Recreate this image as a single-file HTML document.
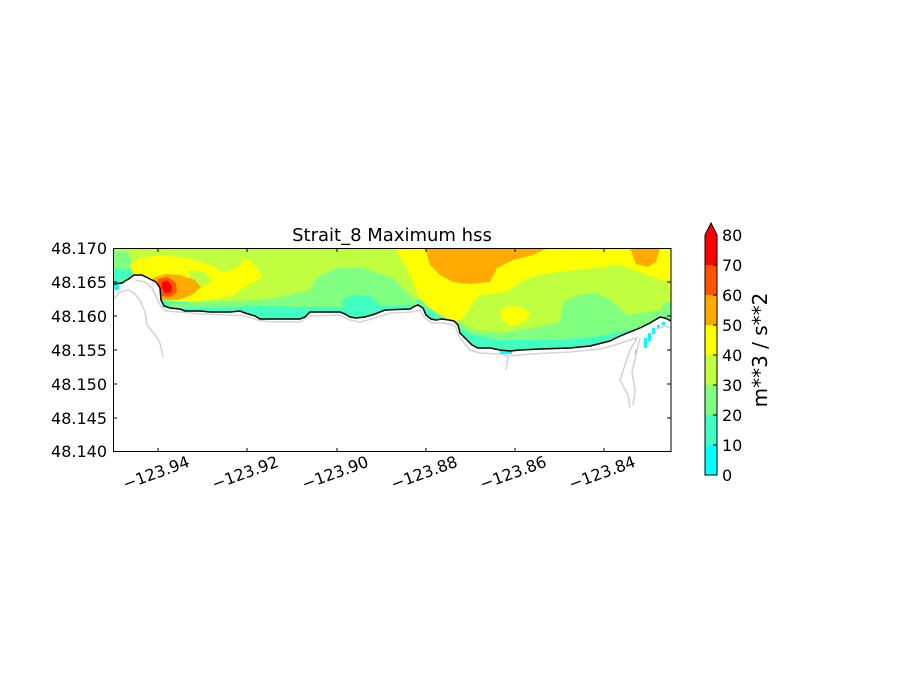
<!DOCTYPE html>
<html><head><meta charset="utf-8"><style>
html,body{margin:0;padding:0;background:#fff;}
svg{display:block;font-family:"DejaVu Sans","Liberation Sans",sans-serif;}
</style></head><body>
<svg width="900" height="700" viewBox="0 0 900 700" xmlns="http://www.w3.org/2000/svg">
<defs>
<clipPath id="sea">
<path d="M113,248 L671,248 L671,321 L665,318 L660,317 L650,323 L640,328 L620,336 L610,341 L590,346 L570,348 L540,349 L520,350 L510,351 L500,350 L490,348 L478,348 L472,345 L466,339 L460,333 L458,325 L454,321 L449,320 L442,319 L436,320 L431,319 L426,315 L423,308 L418,305 L415,306 L410,309 L385,310 L375,314 L365,317 L356,318 L350,317 L345,314 L340,312 L310,312 L305,317 L300,319 L260,319 L255,316 L245,313 L240,311 L230,312 L210,312 L200,311 L185,311 L180,309 L170,308 L164,306 L161,300 L160,288 L156,282 L150,279 L142,275 L134,275 L130,278 L122,283 L113,284 Z"/>
</clipPath>
</defs>
<g clip-path="url(#sea)">
<rect x="113" y="248" width="558" height="110" fill="#c0ff40"/>
<path d="M113,300 L113,266 L130,268 L135,280 L160,300 L200,303 L420,300 L470,330 L560,338 L640,320 L671,310 L671,360 L113,360 Z" fill="#40ffc0"/>
<path d="M170,304 L200,302 L260,300 L280,297 L310,290 L317,277 L337,268 L363,268 L393,278 L410,295 L418,302 L430,310 L445,317 L460,322 L473,330 L503,333 L530,328 L560,322 L563,302 L577,295 L597,293 L610,300 L620,308 L627,315 L640,312 L671,300 L671,318 L640,328 L600,336 L560,340 L500,340 L470,334 L455,325 L420,305 L380,306 L345,307 L300,307 L260,306 L200,308 L170,308 Z" fill="#80ff80"/>
<path d="M343,300 L352,295 L370,296 L378,303 L380,312 L360,314 L343,312 Z" fill="#40ffc0"/>
<path d="M113,250 L128,252 L132,262 L128,270 L113,272 Z" fill="#80ff80"/>
<path d="M113,268 L128,270 L132,280 L113,284 Z" fill="#40ffc0"/>
<path d="M130,265 L140,258 L160,255 L187,258 L210,265 L223,272 L237,268 L243,260 L250,260 L257,268 L263,278 L253,282 L243,288 L233,295 L220,298 L200,301 L180,302 L165,300 L160,290 L150,280 L135,275 Z" fill="#ffff00"/>
<path d="M190,270 L205,272 L212,282 L200,288 L188,282 Z" fill="#c0ff40"/>
<path d="M395,248 L671,248 L671,282 L667,282 L647,275 L620,265 L593,268 L560,272 L537,275 L520,282 L507,292 L480,295 L473,302 L463,318 L455,322 L440,315 L425,305 L418,295 L412,280 L405,265 Z" fill="#ffff00"/>
<path d="M671,282 L671,300 L660,305 L665,290 Z" fill="#ffff00"/>
<path d="M473,302 L480,295 L507,292 L520,282 L537,275 L560,272 L593,268 L620,265 L647,275 L667,282 L671,295 L660,310 L627,315 L620,308 L610,300 L597,293 L577,295 L563,302 L560,322 L530,328 L503,333 L473,330 L465,322 Z" fill="#c0ff40"/>
<path d="M500,312 L508,306 L522,307 L530,313 L525,322 L510,326 L502,320 Z" fill="#ffff00"/>
<path d="M425,248 L550,248 L543,250 L533,255 L513,260 L497,268 L490,282 L470,284 L453,282 L440,275 L430,265 Z" fill="#ffaa00"/>
<path d="M630,248 L660,248 L656,262 L648,267 L636,264 Z" fill="#ffaa00"/>
<path d="M153,278 L165,274 L180,275 L195,280 L201,287 L192,295 L178,300 L162,300 L155,292 Z" fill="#ffaa00"/>
<path d="M158,279 L168,277 L176,283 L177,292 L170,297 L162,296 L158,288 Z" fill="#ff5500"/>
<path d="M162,282 L168,281 L172,286 L171,292 L165,293 L162,288 Z" fill="#ff0000"/>
</g>
<g fill="#00ffff">
<rect x="644" y="338" width="3" height="10" /><rect x="648" y="333" width="3" height="8"/><rect x="652" y="328" width="3" height="6"/><rect x="657" y="325" width="3" height="4"/><rect x="662" y="322" width="3" height="3"/><rect x="635" y="350" width="2" height="4"/>
<rect x="500" y="350" width="12" height="4"/>
<rect x="113" y="284" width="6" height="6"/>
</g>
<g fill="none" stroke="#d4d4d4" stroke-width="1.6">
<path d="M113,300 L120,292 L128,290 L134,293 L140,300 L145,312 L147,325 L155,335 L160,343 L163,357"/>
<path d="M135,280 L145,282 L152,288 L156,296 L160,305 L166,311 L180,312 L200,314 L230,315 L245,316 L258,320 L270,322 L300,322 L310,316 L340,315 L350,320 L360,322 L375,318 L390,313 L412,312 L420,310 L425,318 L432,323 L445,323 L455,326 L460,338 L470,350 L480,353 L500,354 L508,356 L506,370 M510,356 L530,354 L570,352 L600,349 L615,345 L630,340 L637,338 L630,350 L625,365 L620,380 L628,395 L630,408 M640,338 L636,355 L632,372 L635,390 L633,405 M655,330 L665,326 L671,328"/>
</g>
<path d="M113,284 L122,283 L130,278 L134,275 L142,275 L150,279 L156,282 L160,288 L161,300 L164,306 L170,308 L180,309 L185,311 L200,311 L210,312 L230,312 L240,311 L245,313 L255,316 L260,319 L300,319 L305,317 L310,312 L340,312 L345,314 L350,317 L356,318 L365,317 L375,314 L385,310 L410,309 L415,306 L418,305 L423,308 L426,315 L431,319 L436,320 L442,319 L449,320 L454,321 L458,325 L460,333 L466,339 L472,345 L478,348 L490,348 L500,350 L510,351 L520,350 L540,349 L570,348 L590,346 L610,341 L620,336 L640,328 L650,323 L660,317 L665,318 L671,321" fill="none" stroke="#000" stroke-width="1.5"/>
<rect x="113.5" y="248.5" width="557.5" height="203" fill="none" stroke="#000" stroke-width="1"/>
<g stroke="#000" stroke-width="1">
<path d="M158,452v-4M247,452v-4M337,452v-4M426,452v-4M515,452v-4M604,452v-4"/>
<path d="M158,248v4M247,248v4M337,248v4M426,248v4M515,248v4M604,248v4"/>
<path d="M113,282h4M113,316h4M113,350h4M113,384h4M113,418h4"/>
<path d="M671,282h-4M671,316h-4M671,350h-4M671,384h-4M671,418h-4"/>
</g>
<g font-size="16" fill="#000" text-anchor="end">
<text x="107" y="254">48.170</text>
<text x="107" y="288">48.165</text>
<text x="107" y="322">48.160</text>
<text x="107" y="356">48.155</text>
<text x="107" y="390">48.150</text>
<text x="107" y="424">48.145</text>
<text x="107" y="457">48.140</text>
</g>
<g font-size="16" fill="#000" text-anchor="middle">
<text transform="translate(158,478) rotate(-20)">−123.94</text>
<text transform="translate(247,478) rotate(-20)">−123.92</text>
<text transform="translate(337,478) rotate(-20)">−123.90</text>
<text transform="translate(426,478) rotate(-20)">−123.88</text>
<text transform="translate(515,478) rotate(-20)">−123.86</text>
<text transform="translate(604,478) rotate(-20)">−123.84</text>
</g>
<text x="392" y="241" font-size="18" text-anchor="middle">Strait_8 Maximum hss</text>
<g>
<rect x="705" y="445" width="12" height="30" fill="#00ffff"/>
<rect x="705" y="415" width="12" height="30" fill="#40ffc0"/>
<rect x="705" y="385" width="12" height="30" fill="#80ff80"/>
<rect x="705" y="355" width="12" height="30" fill="#c0ff40"/>
<rect x="705" y="325" width="12" height="30" fill="#ffff00"/>
<rect x="705" y="295" width="12" height="30" fill="#ffaa00"/>
<rect x="705" y="265" width="12" height="30" fill="#ff5500"/>
<rect x="705" y="235" width="12" height="30" fill="#ff0000"/>
<path d="M705,235 L711,223 L717,235 Z" fill="#ff0000"/>
<path d="M705,475 L705,235 L711,223 L717,235 L717,475 Z" fill="none" stroke="#000" stroke-width="1"/>
<g stroke="#000"><path d="M713,445h4M713,415h4M713,385h4M713,355h4M713,325h4M713,295h4M713,265h4"/></g>
<g font-size="16" fill="#000">
<text x="722" y="481">0</text><text x="722" y="451">10</text><text x="722" y="421">20</text><text x="722" y="391">30</text><text x="722" y="361">40</text><text x="722" y="331">50</text><text x="722" y="301">60</text><text x="722" y="271">70</text><text x="722" y="241">80</text>
</g>
<text transform="translate(767,350) rotate(-90)" font-size="20" text-anchor="middle">m**3 / s**2</text>
</g>
</svg>
</body></html>
